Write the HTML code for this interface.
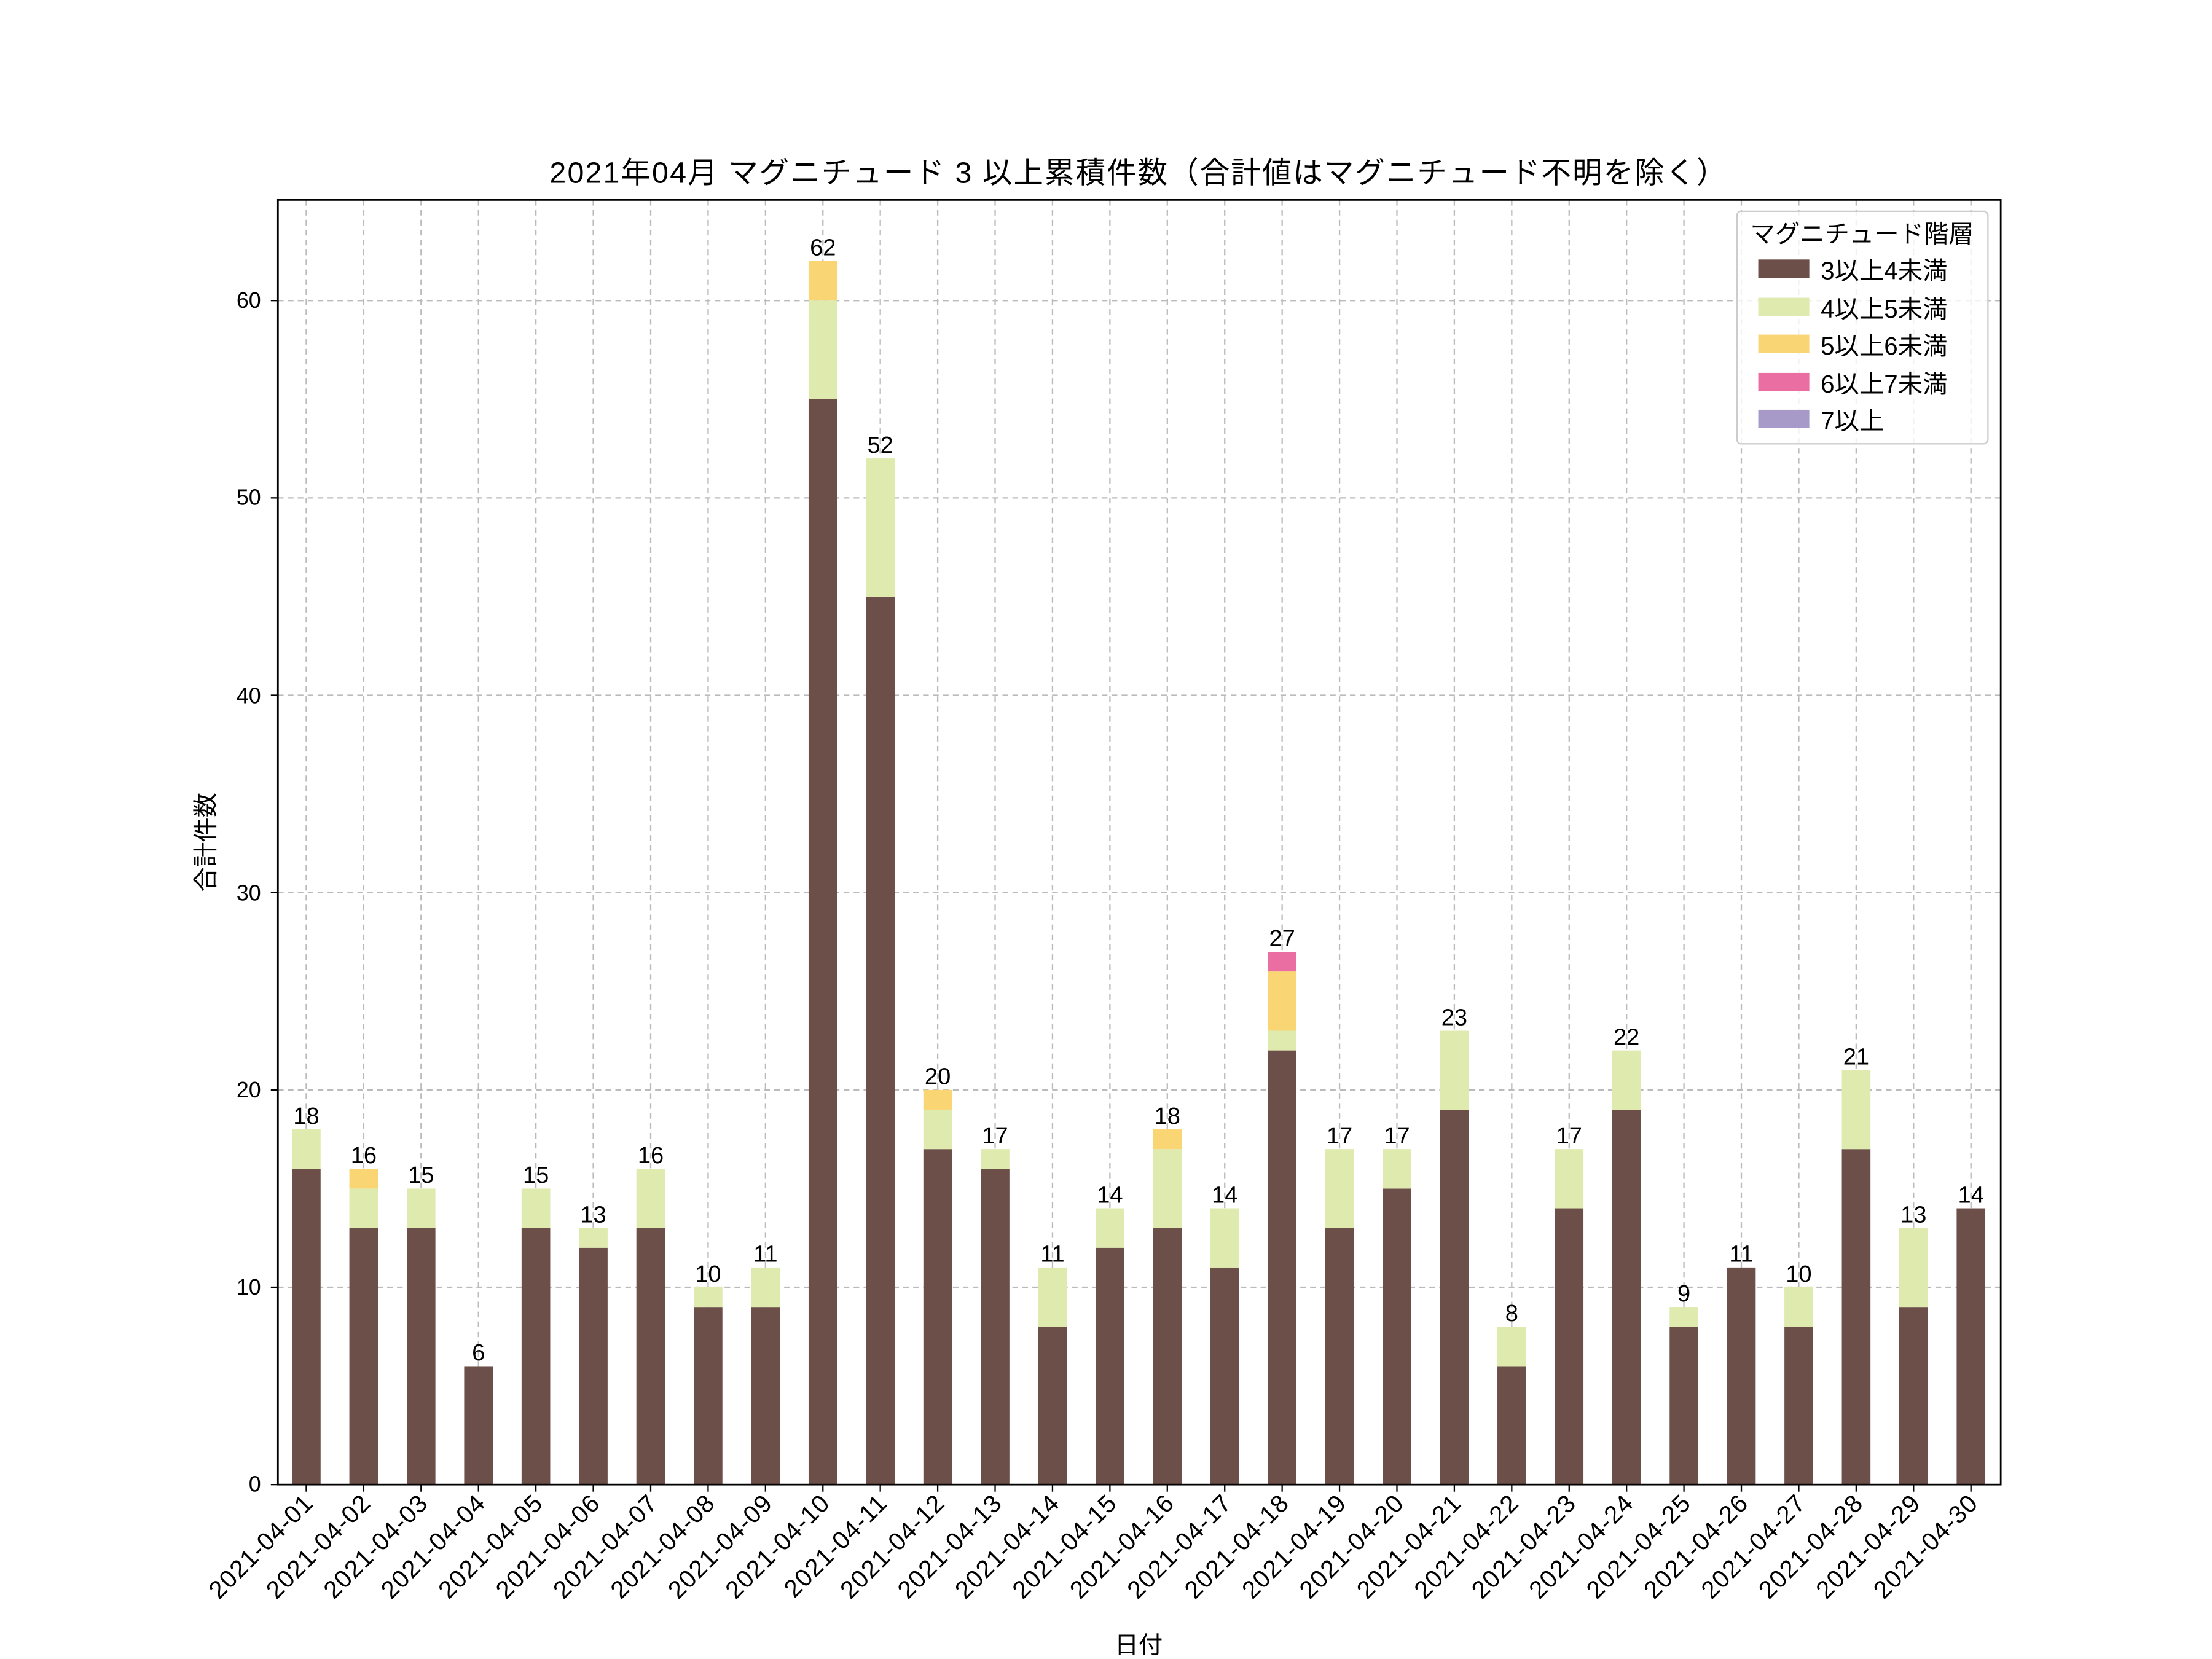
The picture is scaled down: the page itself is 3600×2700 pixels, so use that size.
<!DOCTYPE html>
<html><head><meta charset="utf-8"><style>
html,body{margin:0;padding:0;background:#fff}
svg{display:block}
text{font-family:"Liberation Sans","Noto Sans CJK JP",sans-serif;fill:#000}
</style></head><body>
<svg id="s" width="3600" height="2700" viewBox="0 0 1560 1170" xmlns="http://www.w3.org/2000/svg">
<rect width="1560" height="1170" fill="#fff"/>
<g id="grid"></g>
<g id="bars"></g>
<rect x="196" y="141" width="1215" height="906" fill="none" stroke="#000" stroke-width="1.2"/>
<g id="ticks"></g>
<g font-size="15.5" text-anchor="end">
<text x="184" y="1052">0</text><text x="184" y="913">10</text><text x="184" y="774">20</text>
<text x="184" y="635">30</text><text x="184" y="496">40</text><text x="184" y="356">50</text><text x="184" y="217">60</text>
</g>
<g id="vals" font-size="16.5" text-anchor="middle">
<text>18</text><text>16</text><text>15</text><text>6</text><text>15</text><text>13</text><text>16</text><text>10</text><text>11</text><text>62</text>
<text>52</text><text>20</text><text>17</text><text>11</text><text>14</text><text>18</text><text>14</text><text>27</text><text>17</text><text>17</text>
<text>23</text><text>8</text><text>17</text><text>22</text><text>9</text><text>11</text><text>10</text><text>21</text><text>13</text><text>14</text>
</g>
<g id="dates" font-size="17.5" text-anchor="end" letter-spacing="0.6">
<text>2021-04-01</text><text>2021-04-02</text><text>2021-04-03</text><text>2021-04-04</text><text>2021-04-05</text><text>2021-04-06</text><text>2021-04-07</text><text>2021-04-08</text><text>2021-04-09</text><text>2021-04-10</text>
<text>2021-04-11</text><text>2021-04-12</text><text>2021-04-13</text><text>2021-04-14</text><text>2021-04-15</text><text>2021-04-16</text><text>2021-04-17</text><text>2021-04-18</text><text>2021-04-19</text><text>2021-04-20</text>
<text>2021-04-21</text><text>2021-04-22</text><text>2021-04-23</text><text>2021-04-24</text><text>2021-04-25</text><text>2021-04-26</text><text>2021-04-27</text><text>2021-04-28</text><text>2021-04-29</text><text>2021-04-30</text>
</g>
<text x="803" y="129" font-size="21" text-anchor="middle" letter-spacing="0.9">2021年04月 マグニチュード 3 以上累積件数（合計値はマグニチュード不明を除く）</text>
<text x="803" y="1166" font-size="17" text-anchor="middle">日付</text>
<text transform="translate(151,594) rotate(-90)" font-size="17.5" text-anchor="middle">合計件数</text>
<rect x="1225" y="149" width="177" height="164" rx="3" fill="#fff" fill-opacity="0.8" stroke="#ccc" stroke-width="1"/>
<text x="1313" y="171" font-size="17.5" text-anchor="middle">マグニチュード階層</text>
<rect x="1240" y="183" width="36" height="13" fill="#6d4f4a"/><text x="1284" y="197" font-size="17.5">3以上4未満</text>
<rect x="1240" y="210" width="36" height="13" fill="#dfeaae"/><text x="1284" y="224" font-size="17.5">4以上5未満</text>
<rect x="1240" y="236" width="36" height="13" fill="#fad574"/><text x="1284" y="250" font-size="17.5">5以上6未満</text>
<rect x="1240" y="263" width="36" height="13" fill="#eb6ea3"/><text x="1284" y="277" font-size="17.5">6以上7未満</text>
<rect x="1240" y="289" width="36" height="13" fill="#a79ac8"/><text x="1284" y="303" font-size="17.5">7以上</text>
</svg>
<script>
var NS="http://www.w3.org/2000/svg";
var data=[[16,2],[13,2,1],[13,2],[6],[13,2],[12,1],[13,3],[9,1],[9,2],[55,5,2],[45,7],[17,2,1],[16,1],[8,3],[12,2],[13,4,1],[11,3],[22,1,3,1],[13,4],[15,2],[19,4],[6,2],[14,3],[19,3],[8,1],[11],[8,2],[17,4],[9,4],[14]];
var cols=["#6d4f4a","#dfeaae","#fad574","#eb6ea3","#a79ac8"];
function el(n,a,p){var e=document.createElementNS(NS,n);for(var k in a)e.setAttribute(k,a[k]);p.appendChild(e);return e;}
var g=document.getElementById("grid"),b=document.getElementById("bars"),t=document.getElementById("ticks");
function X(i){return 216+i*40.483;}function Y(v){return 1047-v*13.917;}
for(var v=0;v<=60;v+=10){var y=Y(v);el("line",{x1:196,x2:1411,y1:y,y2:y,stroke:"#bbb","stroke-dasharray":"4,3","stroke-width":1},g);el("line",{x1:191,x2:196,y1:y,y2:y,stroke:"#000"},t);}
var vals=document.getElementById("vals").children,dates=document.getElementById("dates").children;
for(var i=0;i<30;i++){var x=X(i);
el("line",{x1:x,x2:x,y1:141,y2:1047,stroke:"#bbb","stroke-dasharray":"4,3","stroke-width":1},g);
el("line",{x1:x,x2:x,y1:1047,y2:1052,stroke:"#000"},t);
var c=0;data[i].forEach(function(h,k){el("rect",{x:x-10.1,y:Y(c+h),width:20.2,height:h*13.917,fill:cols[k]},b);c+=h;});
vals[i].setAttribute("x",x);vals[i].setAttribute("y",Y(c)-4);
dates[i].setAttribute("transform","translate("+(x+6)+",1061) rotate(-45)");}
</script>
</body></html>
